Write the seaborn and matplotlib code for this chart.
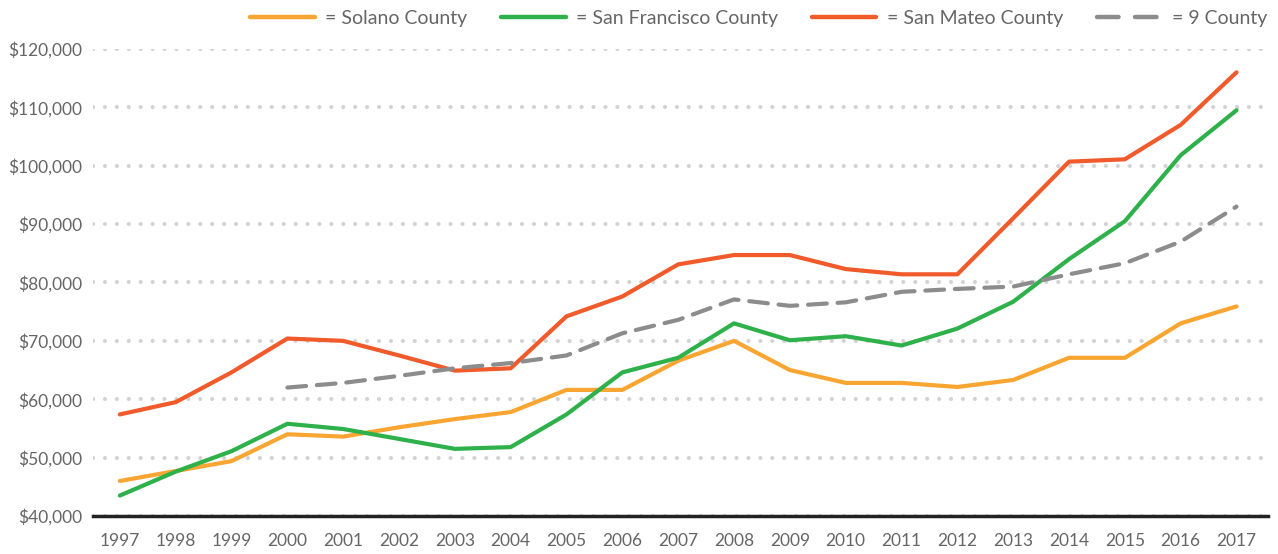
import matplotlib.pyplot as plt
import pandas as pd
import seaborn as sns
from matplotlib.lines import Line2D
from matplotlib.ticker import FuncFormatter

years = list(range(1997, 2018))

solano = [46000, 47700, 49400, 54000, 53600, 55200, 56600, 57800, 61600, 61600,
          66600, 70000, 65000, 62800, 62800, 62100, 63300, 67100, 67100, 73000, 75900]
san_francisco = [43500, 47600, 51100, 55800, 54900, 53200, 51500, 51800, 57400, 64600,
                 67100, 73000, 70100, 70800, 69200, 72100, 76700, 84000, 90500, 101800, 109500]
san_mateo = [57400, 59500, 64600, 70400, 70000, 67500, 64900, 65300, 74200, 77600,
             83100, 84700, 84700, 82300, 81400, 81400, 91000, 100700, 101100, 107000, 116000]
nine_county = [None, None, None, 62000, 62800, 64000, 65300, 66200, 67500, 71300,
               73600, 77100, 76000, 76600, 78400, 78900, 79300, 81400, 83300, 87000, 93000]

series_names = ["Solano County", "San Francisco County", "San Mateo County", "9 County"]
colors = ["#F9A532", "#2EB04A", "#F15A2A", "#8C8C8D"]
y_ticks = [40000, 50000, 60000, 70000, 80000, 90000, 100000, 110000, 120000]

df = pd.DataFrame({"year": years, "Solano County": solano,
                   "San Francisco County": san_francisco,
                   "San Mateo County": san_mateo, "9 County": nine_county})
long = df.melt(id_vars="year", var_name="county", value_name="income").dropna()

sns.set_style("white")
plt.rcParams['font.family'] = ['Lato', 'DejaVu Sans']

fig = plt.figure(figsize=(12.78, 5.54), dpi=100)
ax = fig.add_axes([0.0728, 0.0686, 0.9192, 0.843])

palette = dict(zip(series_names, colors))
dashes = {"Solano County": "", "San Francisco County": "",
          "San Mateo County": "", "9 County": (4.5, 2.6)}
sns.lineplot(data=long, x="year", y="income", hue="county", style="county",
             palette=palette, dashes=dashes, hue_order=series_names,
             style_order=series_names, linewidth=3, ax=ax, legend=False,
             zorder=3)
for ln in ax.get_lines():
    ln.set_solid_capstyle("round")
    ln.set_dash_capstyle("round")
    ln.set_solid_joinstyle("round")

ax.set_xlim(1996.52, 2017.56)
ax.set_ylim(40000, 120000)
ax.set_xticks(years)
ax.set_yticks(y_ticks)
ax.yaxis.set_major_formatter(FuncFormatter(lambda v, p: "${:,.0f}".format(v)))
ax.set_xlabel("")
ax.set_ylabel("")
ax.tick_params(axis="both", length=0, labelsize=12.5, labelcolor="#666666")
ax.tick_params(axis="y", pad=8)
ax.tick_params(axis="x", pad=12)

ax.yaxis.grid(True, color="#D3D3D3", linewidth=3, linestyle=(0, (0.01, 2.85)),
              dash_capstyle="round")
ax.xaxis.grid(False)
for s in ["top", "right", "left"]:
    ax.spines[s].set_visible(False)
ax.spines["bottom"].set_color("#222222")
ax.spines["bottom"].set_linewidth(2.5)
ax.spines["bottom"].set_zorder(4)

handles = []
for name, c in zip(series_names, colors):
    ls = (0, (4.85, 3.7)) if name == "9 County" else "-"
    handles.append(Line2D([0], [0], color=c, linewidth=3.2, linestyle=ls,
                          solid_capstyle="round", dash_capstyle="round"))
fig.legend(handles, ["= " + n for n in series_names], loc="center right",
           bbox_to_anchor=(1.0055, 0.967), ncol=4, frameon=False,
           fontsize=14, labelcolor="#666666", handlelength=3.3,
           handletextpad=0.55, columnspacing=1.75)

fig.savefig("out.png", dpi=100)
